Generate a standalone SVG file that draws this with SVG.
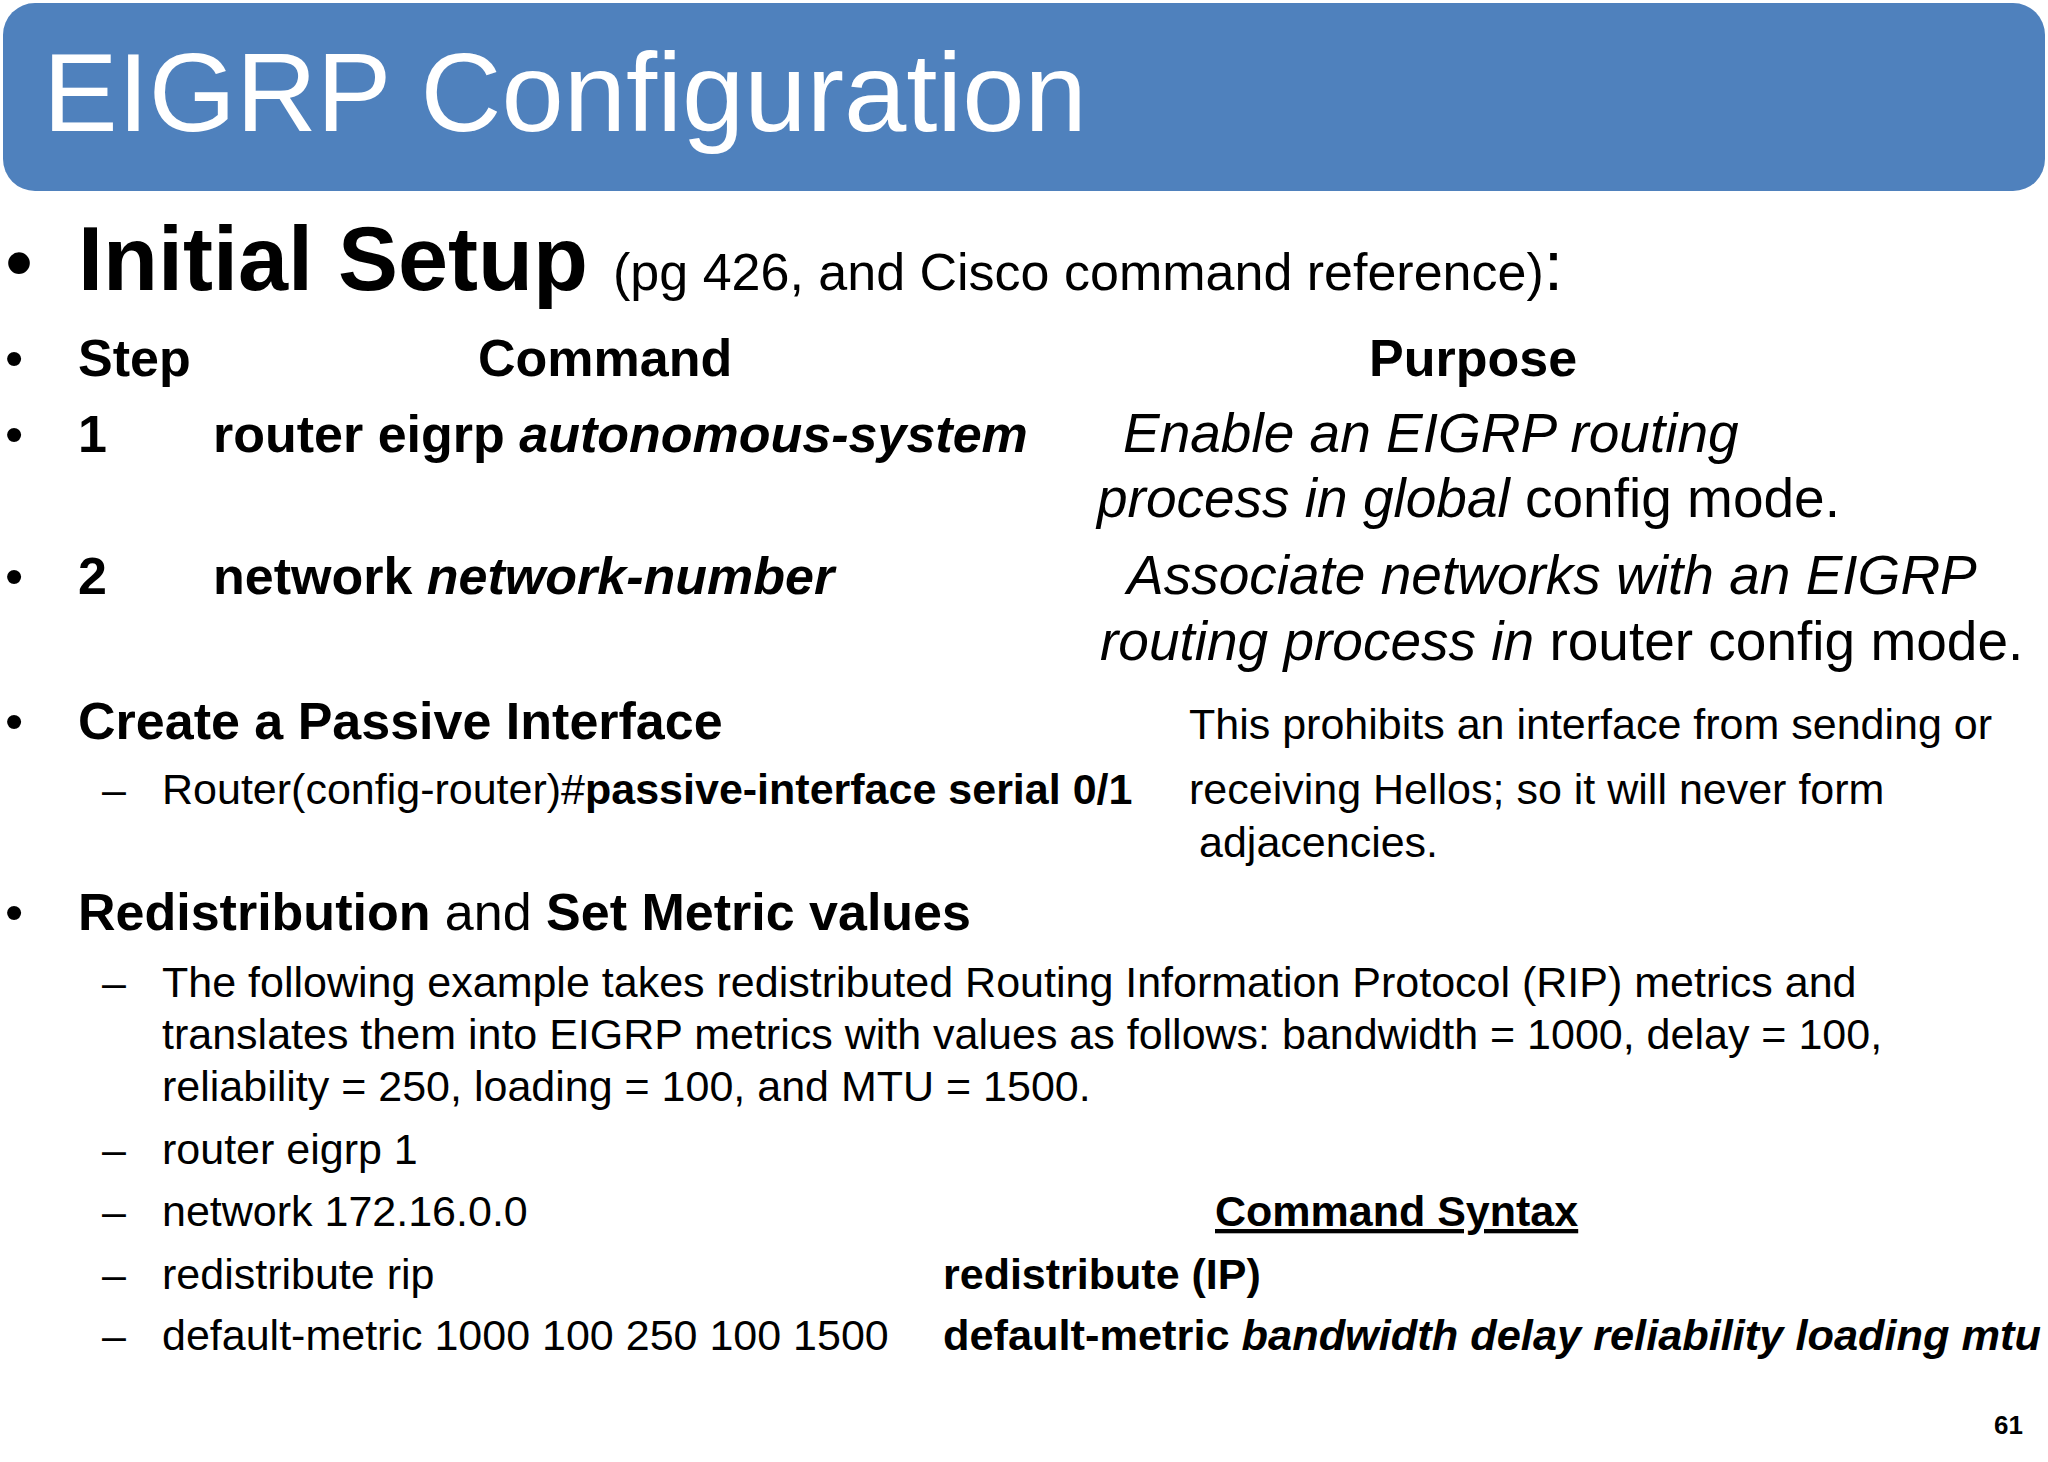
<svg xmlns="http://www.w3.org/2000/svg" width="2048" height="1462" viewBox="0 0 2048 1462">
<style>
text{font-family:"Liberation Sans",Arial,sans-serif;fill:#000}
.b{font-weight:bold}
.i{font-style:italic}
.h{font-size:52px}
.n{font-size:43px}
.p{font-size:55px}
</style>
<rect width="2048" height="1462" fill="#fff"/>
<g id="header">
<rect x="3" y="3" width="2042" height="188" rx="32" fill="#4F81BD"/>
<text x="43" y="131" font-size="112" style="fill:#fff">EIGRP Configuration</text>
</g>
<g id="initial">
<text x="5" y="290" font-size="80">•</text>
<text x="78" y="290" font-size="90" class="b">Initial Setup <tspan font-size="52" font-weight="normal">(pg 426, and Cisco command reference)</tspan><tspan font-size="70" font-weight="normal">:</tspan></text>
</g>
<g id="table">
<text x="5" y="376" class="h">•</text>
<text x="78" y="376" class="h b">Step</text>
<text x="478" y="376" class="h b">Command</text>
<text x="1369" y="376" class="h b">Purpose</text>
<text x="5" y="452" class="h">•</text>
<text x="78" y="452" class="h b">1</text>
<text x="213" y="452" class="h b">router eigrp <tspan class="i">autonomous-system</tspan></text>
<text x="1123" y="452" class="p i">Enable an EIGRP routing</text>
<text x="1097" y="517" class="p"><tspan class="i">process in global</tspan> config mode.</text>
<text x="5" y="594" class="h">•</text>
<text x="78" y="594" class="h b">2</text>
<text x="213" y="594" class="h b">network <tspan class="i">network-number</tspan></text>
<text x="1127" y="594" class="p i">Associate networks with an EIGRP</text>
<text x="1100" y="660" class="p"><tspan class="i">routing process in</tspan> router config mode.</text>
</g>
<g id="passive">
<text x="5" y="739" class="h">•</text>
<text x="78" y="739" class="h b">Create a Passive Interface</text>
<text x="102" y="804" class="n">–</text>
<text x="162" y="804" class="n">Router(config-router)#<tspan class="b">passive-interface serial 0/1</tspan></text>
<text x="1189" y="739" class="n">This prohibits an interface from sending or</text>
<text x="1189" y="804" class="n">receiving Hellos; so it will never form</text>
<text x="1199" y="857" class="n">adjacencies.</text>
</g>
<g id="redistribution">
<text x="5" y="930" class="h">•</text>
<text x="78" y="930" class="h"><tspan class="b">Redistribution</tspan> and <tspan class="b">Set Metric values</tspan></text>
<text x="102" y="997" class="n">–</text>
<text x="162" y="997" class="n">The following example takes redistributed Routing Information Protocol (RIP) metrics and</text>
<text x="162" y="1049" class="n">translates them into EIGRP metrics with values as follows: bandwidth = 1000, delay = 100,</text>
<text x="162" y="1101" class="n">reliability = 250, loading = 100, and MTU = 1500.</text>
<text x="102" y="1164" class="n">–</text>
<text x="162" y="1164" class="n">router eigrp 1</text>
<text x="102" y="1226" class="n">–</text>
<text x="162" y="1226" class="n">network 172.16.0.0</text>
<text x="1215" y="1226" class="n b" text-decoration="underline">Command Syntax</text>
<text x="102" y="1289" class="n">–</text>
<text x="162" y="1289" class="n">redistribute rip</text>
<text x="943" y="1289" class="n b">redistribute (IP)</text>
<text x="102" y="1350" class="n">–</text>
<text x="162" y="1350" class="n">default-metric 1000 100 250 100 1500</text>
<text x="943" y="1350" class="n b" textLength="1098" lengthAdjust="spacingAndGlyphs">default-metric <tspan class="i">bandwidth delay reliability loading mtu</tspan></text>
</g>
<text x="1994" y="1434" font-size="26" class="b">61</text>
</svg>
